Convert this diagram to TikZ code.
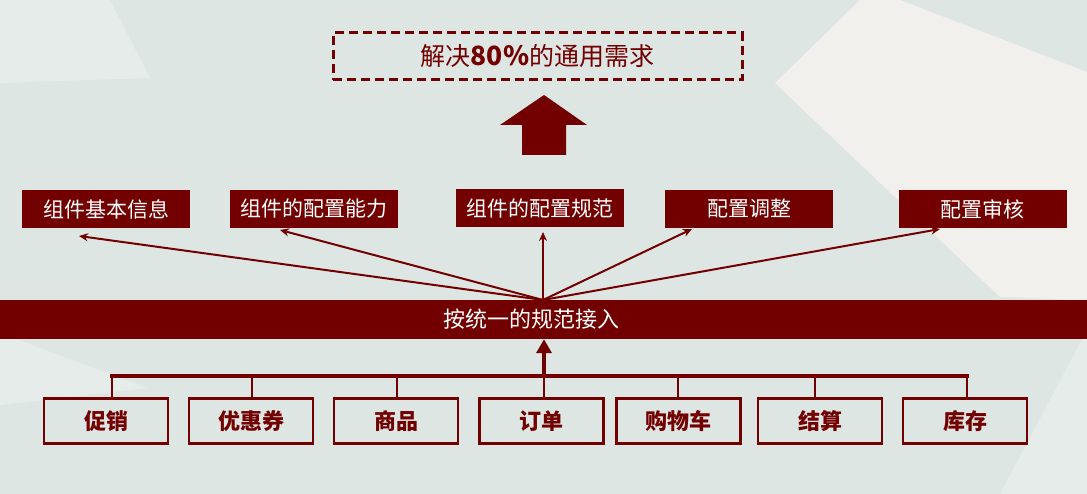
\documentclass[tikz,border=0pt]{standalone}
\usepackage{fontspec}
\setmainfont{Noto Sans CJK SC}
\usetikzlibrary{arrows.meta}
\definecolor{dred}{HTML}{730000}
\definecolor{bgbase}{HTML}{DEE6E4}
\definecolor{bglight}{HTML}{F2F0ED}
\definecolor{bgmid}{HTML}{E6ECEA}
\tikzset{
  topbox/.style={fill=dred, text=white, minimum width=168pt, minimum height=38pt, inner sep=0pt, font=\fontsize{21}{21}\selectfont},
  srcbox/.style={draw=dred, line width=2.5pt, minimum width=124pt, minimum height=45pt, inner sep=0pt, text=dred, font=\fontsize{22}{22}\selectfont\bfseries},
  thinarrow/.style={draw=dred, line width=2pt, -{Stealth[length=9pt,width=8pt]}},
  bus/.style={draw=dred, line width=3.5pt},
  drop/.style={draw=dred, line width=2pt},
}
\newcommand{\lowered}[1]{\raisebox{-4.5pt}{#1}}
\begin{document}
\begin{tikzpicture}[x=1pt,y=-1pt]
\useasboundingbox (0,0) rectangle (1087,494);
% background
\fill[bgbase] (0,0) rectangle (1087,494);
\fill[bglight] (860,0) -- (900,0) -- (1087,72) -- (1087,300) -- (1000,297) -- (775,83) -- cycle;
\fill[bgmid] (0,0) -- (110,0) -- (150,78) -- (0,83) -- cycle;
\fill[bgmid] (0,333) -- (147,388) -- (0,405) -- cycle;
\fill[bgmid] (1087,330) -- (1087,494) -- (1000,494) -- cycle;

% goal
\node[draw=dred, dash pattern=on 9pt off 5pt, line width=3pt, minimum width=409pt, minimum height=47pt, inner sep=0pt, text=dred, font=\fontsize{25}{25}\selectfont] (goal) at (537.5,56.5) {解决{\fontsize{26.5}{26.5}\selectfont\bfseries 80\%}的通用需求};

% big arrow
\fill[dred] (544,95) -- (587,125) -- (566,125) -- (566,155) -- (522,155) -- (522,125) -- (500,125) -- cycle;

% top boxes
\node[topbox] (b1) at (106,209) {组件基本信息};
\node[topbox] (b2) at (313.5,209) {组件的配置能力};
\node[topbox] (b3) at (540,208) {组件的配置规范};
\node[topbox] (b4) at (749,209) {配置调整};
\node[topbox] (b5) at (982.5,209) {配置审核};

% bar
\node[fill=dred, text=white, minimum width=1087pt, minimum height=39pt, inner sep=0pt, font=\fontsize{22}{22}\selectfont] (bar) at (543.5,319.5) {\hspace*{-24pt}按统一的规范接入};

% fan arrows
\coordinate (o) at (543,300);
\coordinate (t1) at (79,236);
\coordinate (t2) at (280,230);
\coordinate (t3) at (543,232);
\coordinate (t4) at (692,229);
\coordinate (t5) at (940,229);
\foreach \t in {t1,t2,t3,t4,t5} \draw[thinarrow] (o) -- (\t);

% bottom boxes
\node[srcbox] (s1) at (106,421) {\lowered{促销}};
\node[srcbox] (s2) at (251,421) {\lowered{优惠券}};
\node[srcbox] (s3) at (396,421) {\lowered{商品}};
\node[srcbox] (s4) at (541.5,421) {\lowered{订单}};
\node[srcbox] (s5) at (678.5,421) {\lowered{购物车}};
\node[srcbox] (s6) at (820,421) {\lowered{结算}};
\node[srcbox] (s7) at (965,421) {\lowered{库存}};

% bus
\coordinate (busL) at (110.25,376);
\coordinate (busR) at (968.75,376);
\draw[bus] (busL) -- (busR);
\coordinate (d1) at (112,376);
\coordinate (d2) at (252,376);
\coordinate (d3) at (397,376);
\coordinate (d4) at (544,376);
\coordinate (d5) at (678,376);
\coordinate (d6) at (815,376);
\coordinate (d7) at (967,376);
\foreach \i in {1,...,7} \draw[drop] (d\i) -- (d\i |- s\i.north);

% up arrow into bar
\draw[draw=dred, line width=4.5pt, -{Triangle[length=14pt,width=15pt]}] (d4) -- (d4 |- bar.south);
\end{tikzpicture}
\end{document}
